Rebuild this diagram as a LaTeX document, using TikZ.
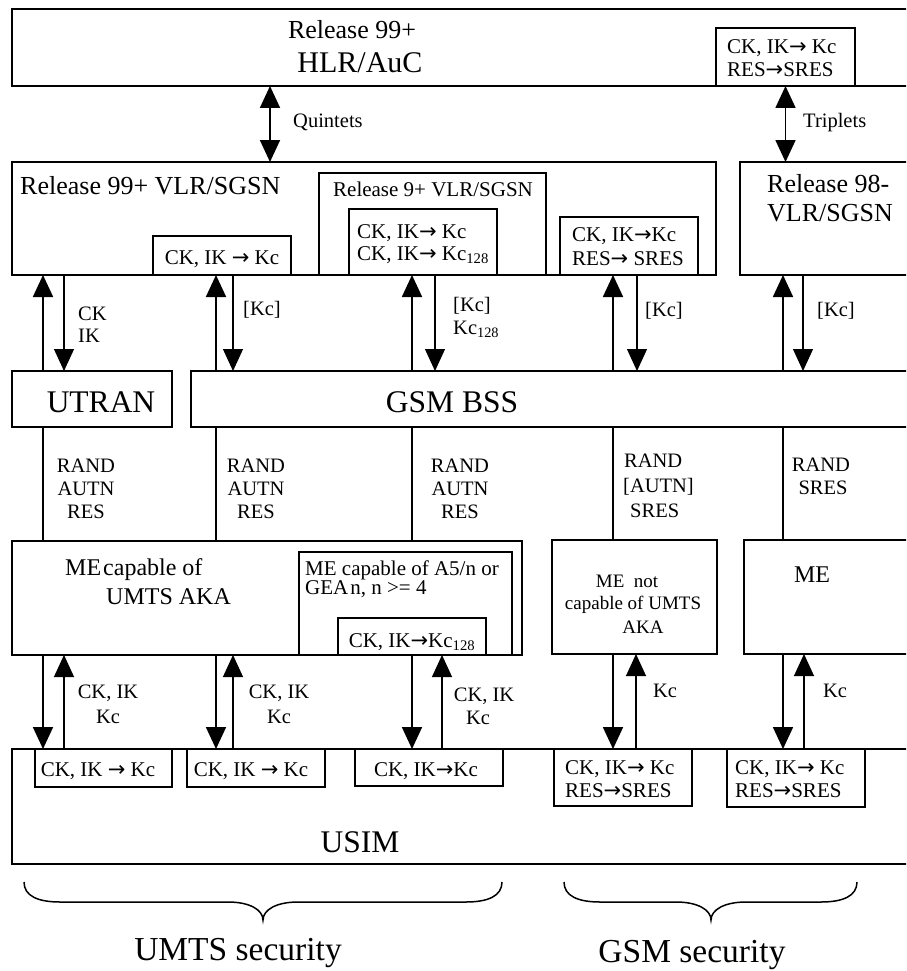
\documentclass[tikz,border=0pt]{standalone}
\usepackage{fontspec}
\setmainfont{Liberation Serif}
\newfontfamily\arrfam{DejaVu Sans}
\usetikzlibrary{arrows.meta}
\newcommand\szXL{\fontsize{33.5}{36}\selectfont}
\newcommand\szL{\fontsize{31.5}{34}\selectfont}
\newcommand\szH{\fontsize{30}{33}\selectfont}
\newcommand\szM{\fontsize{26}{29}\selectfont}
\newcommand\szMe{\fontsize{24}{27}\selectfont}
\newcommand\szS{\fontsize{21}{23}\selectfont}
\newcommand\szLab{\fontsize{20.5}{23}\selectfont}
\newcommand\szT{\fontsize{19}{22}\selectfont}
\newcommand\myarr{{\arrfam →}}
\begin{document}
\begin{tikzpicture}[x=1pt,y=-1pt,
  box/.style={draw,line width=1.5pt,anchor=north west,inner sep=0pt,outer sep=0pt},
  lbl/.style={inner sep=0pt,anchor=base west},
  clbl/.style={inner sep=0pt,anchor=base},
  main/.style={line width=1.8pt},
  aux/.style={line width=1.1pt},
  link/.style={line width=1.2pt},
  tip/.style={-{Triangle[width=20pt,length=22pt]}},
  dbl/.style={line width=1.8pt,{Triangle[width=20pt,length=22pt]}-{Triangle[width=20pt,length=22pt]}},
  brc/.style={line width=1.5pt}
]
\clip (0,0) rectangle (906,971);
% boxes
\node[box,minimum width=908pt,minimum height=77pt] (hlr) at (12,9) {};
\node[box,minimum width=139pt,minimum height=58pt] (hlrk) at (716,28) {};
\node[box,minimum width=704pt,minimum height=113pt] (vlr99) at (12,162) {};
\node[box,minimum width=138pt,minimum height=39pt] (vk1) at (153,236) {};
\node[box,minimum width=227pt,minimum height=102pt] (r9) at (319,173) {};
\node[box,minimum width=148pt,minimum height=66pt] (r9k) at (349,209) {};
\node[box,minimum width=138pt,minimum height=58pt] (vk2) at (560,217) {};
\node[box,minimum width=180pt,minimum height=113pt] (vlr98) at (740,162) {};
\node[box,minimum width=160pt,minimum height=56pt] (utran) at (12,371) {};
\node[box,minimum width=729pt,minimum height=56pt] (bss) at (191,371) {};
\node[box,minimum width=510pt,minimum height=114pt] (mecap) at (12,541) {};
\node[box,minimum width=213pt,minimum height=103pt] (me4) at (299,552) {};
\node[box,minimum width=148pt,minimum height=37pt] (me4k) at (338,618) {};
\node[box,minimum width=165pt,minimum height=114pt] (menot) at (552,540) {};
\node[box,minimum width=176pt,minimum height=114pt] (me) at (744,540) {};
\node[box,minimum width=908pt,minimum height=115pt] (usim) at (12,749) {};
\node[box,minimum width=137pt,minimum height=38pt] (u1) at (35,749) {};
\node[box,minimum width=138pt,minimum height=38pt] (u2) at (187,749) {};
\node[box,minimum width=148pt,minimum height=37pt] (u3) at (355,749) {};
\node[box,minimum width=138pt,minimum height=57pt] (u4) at (554,749) {};
\node[box,minimum width=138pt,minimum height=58pt] (u5) at (727,749) {};
% texts in boxes
\node[clbl,font=\szM] (hlrt1) at (352,39) {Release 99+};
\node[clbl,font=\szH] (hlrt2) at (360,73) {HLR/AuC};
\node[lbl,font=\szS] (hlrk1) at (727,54) {CK, IK\myarr\ Kc};
\node[lbl,font=\szS] (hlrk2) at (727,77) {RES\myarr SRES};
\node[lbl,font=\szM] (v99t) at (20,194) {Release 99+ VLR/SGSN};
\node[clbl,font=\szS] (vk1t) at (222,264) {CK, IK \myarr\ Kc};
\node[clbl,font=\szS] (r9t) at (433,196) {Release 9+ VLR/SGSN};
\node[lbl,font=\szS] (r9k1) at (357,238) {CK, IK\myarr\ Kc};
\node[lbl,font=\szS] (r9k2) at (357,260) {CK, IK\myarr\ Kc\textsubscript{128}};
\node[lbl,font=\szS] (vk2a) at (572,241) {CK, IK\myarr Kc};
\node[lbl,font=\szS] (vk2b) at (572,265) {RES\myarr\ SRES};
\node[lbl,font=\szM] (v98a) at (767,192) {Release 98-};
\node[lbl,font=\szM] (v98b) at (767,221) {VLR/SGSN};
\node[clbl,font=\szL] (utrant) at (101,412) {UTRAN};
\node[clbl,font=\szL] (bsst) at (452,412) {GSM BSS};
\node[lbl,font=\szMe] (mecap1) at (65,575) {ME\kern2pt capable of};
\node[lbl,font=\szMe] (mecap2) at (106,604) {UMTS AKA};
\node[lbl,font=\szS] (me4a) at (305,575) {ME capable of A5/n or};
\node[lbl,font=\szS] (me4b) at (305,594) {GEA\kern2pt n, n >= 4};
\node[clbl,font=\szS] (me4kt) at (412,647) {CK, IK\myarr Kc\textsubscript{128}};
\node[clbl,font=\szT] (menot1) at (627,587) {ME\ \ not};
\node[clbl,font=\szT] (menot2) at (633,609) {capable of UMTS};
\node[clbl,font=\szT] (menot3) at (643,633) {AKA};
\node[clbl,font=\szMe] (met) at (812,582) {ME};
\node[clbl,font=\szS] (u1t) at (98,776) {CK, IK \myarr\ Kc};
\node[clbl,font=\szS] (u2t) at (251,776) {CK, IK \myarr\ Kc};
\node[clbl,font=\szS] (u3t) at (426,776) {CK, IK\myarr Kc};
\node[lbl,font=\szS] (u4a) at (565,774) {CK, IK\myarr\ Kc};
\node[lbl,font=\szS] (u4b) at (565,797) {RES\myarr SRES};
\node[lbl,font=\szS] (u5a) at (735,774) {CK, IK\myarr\ Kc};
\node[lbl,font=\szS] (u5b) at (735,797) {RES\myarr SRES};
\node[clbl,font=\szL] (usimt) at (360,852) {USIM};
% connector x positions
\coordinate (cA) at (43,0);  \coordinate (cAb) at (64,0);
\coordinate (cB) at (216,0); \coordinate (cBb) at (233,0);
\coordinate (cC) at (412,0); \coordinate (cCb) at (435,0);
\coordinate (cD) at (613,0); \coordinate (cDb) at (637,0);
\coordinate (cE) at (783,0); \coordinate (cEb) at (803,0);
\coordinate (lA) at (64,0);  \coordinate (lB) at (233,0);
\coordinate (lC) at (442,0); \coordinate (lD) at (636,0);
\coordinate (lE) at (804,0); \coordinate (cQ) at (270,0);
% HLR links
\draw[dbl] (hlr.south -| cQ) -- (vlr99.north -| cQ);
\draw[dbl] (hlrk.south) -- (hlrk.south |- vlr98.north);
\node[lbl,font=\szLab] (quin) at (293,128) {Quintets};
\node[lbl,font=\szLab] (trip) at (803,128) {Triplets};
% VLR - access network
\draw[main,tip] (utran.north -| cA) -- (vlr99.south -| cA);
\draw[aux,tip] (vlr99.south -| cAb) -- (utran.north -| cAb);
\draw[main,tip] (bss.north -| cB) -- (vlr99.south -| cB);
\draw[aux,tip] (vlr99.south -| cBb) -- (bss.north -| cBb);
\draw[main,tip] (bss.north -| cC) -- (vlr99.south -| cC);
\draw[aux,tip] (vlr99.south -| cCb) -- (bss.north -| cCb);
\draw[main,tip] (bss.north -| cD) -- (vlr99.south -| cD);
\draw[aux,tip] (vlr99.south -| cDb) -- (bss.north -| cDb);
\draw[main,tip] (bss.north -| cE) -- (vlr98.south -| cE);
\draw[aux,tip] (vlr98.south -| cEb) -- (bss.north -| cEb);
\node[lbl,font=\szLab] (la1) at (78,320) {CK};
\node[lbl,font=\szLab] (la2) at (78,342) {IK};
\node[lbl,font=\szLab] (lb1) at (243,315) {[Kc]};
\node[lbl,font=\szLab] (lc1) at (453,311) {[Kc]};
\node[lbl,font=\szLab] (lc2) at (453,334) {Kc\textsubscript{128}};
\node[lbl,font=\szLab] (ld1) at (645,316) {[Kc]};
\node[lbl,font=\szLab] (le1) at (817,316) {[Kc]};
% access network - ME
\draw[link] (utran.south -| cA) -- (mecap.north -| cA);
\draw[link] (bss.south -| cB) -- (mecap.north -| cB);
\draw[link] (bss.south -| cC) -- (mecap.north -| cC);
\draw[link] (bss.south -| cD) -- (menot.north -| cD);
\draw[link] (bss.south -| cE) -- (me.north -| cE);
\node[clbl,font=\szLab] (r1a) at (86,472) {RAND};
\node[clbl,font=\szLab] (r1b) at (86,495) {AUTN};
\node[clbl,font=\szLab] (r1c) at (86,518) {RES};
\node[clbl,font=\szLab] (r2a) at (256,472) {RAND};
\node[clbl,font=\szLab] (r2b) at (256,495) {AUTN};
\node[clbl,font=\szLab] (r2c) at (256,518) {RES};
\node[clbl,font=\szLab] (r3a) at (460,472) {RAND};
\node[clbl,font=\szLab] (r3b) at (460,495) {AUTN};
\node[clbl,font=\szLab] (r3c) at (460,518) {RES};
\node[lbl,font=\szLab] (r4a) at (624,467) {RAND};
\node[lbl,font=\szLab] (r4b) at (623,492) {[AUTN]};
\node[lbl,font=\szLab] (r4c) at (630,517) {SRES};
\node[clbl,font=\szLab] (r5a) at (821,471) {RAND};
\node[clbl,font=\szLab] (r5b) at (823,494) {SRES};
% ME - USIM
\draw[main,tip] (mecap.south -| cA) -- (usim.north -| cA);
\draw[aux,tip] (usim.north -| lA) -- (mecap.south -| lA);
\draw[main,tip] (mecap.south -| cB) -- (usim.north -| cB);
\draw[aux,tip] (usim.north -| lB) -- (mecap.south -| lB);
\draw[main,tip] (mecap.south -| cC) -- (usim.north -| cC);
\draw[aux,tip] (usim.north -| lC) -- (mecap.south -| lC);
\draw[main,tip] (menot.south -| cD) -- (usim.north -| cD);
\draw[aux,tip] (usim.north -| lD) -- (menot.south -| lD);
\draw[main,tip] (me.south -| cE) -- (usim.north -| cE);
\draw[aux,tip] (usim.north -| lE) -- (me.south -| lE);
\node[clbl,font=\szLab] (k1a) at (108,698) {CK, IK};
\node[clbl,font=\szLab] (k1b) at (108,723) {Kc};
\node[clbl,font=\szLab] (k2a) at (279,698) {CK, IK};
\node[clbl,font=\szLab] (k2b) at (279,723) {Kc};
\node[clbl,font=\szLab] (k3a) at (484,701) {CK, IK};
\node[clbl,font=\szLab] (k3b) at (478,724) {Kc};
\node[clbl,font=\szLab] (k4a) at (665,697) {Kc};
\node[clbl,font=\szLab] (k5a) at (835,697) {Kc};
% braces
\draw[brc] (24,882) .. controls (24,896) and (38,902) .. (60,902) -- (228,902)
  .. controls (250,902) and (263,910) .. (263,920)
  .. controls (263,910) and (276,902) .. (298,902) -- (466,902)
  .. controls (488,902) and (502,896) .. (502,882);
\draw[brc] (564,882) .. controls (564,896) and (578,902) .. (600,902) -- (676,902)
  .. controls (698,902) and (711,910) .. (711,920)
  .. controls (711,910) and (724,902) .. (746,902) -- (821,902)
  .. controls (843,902) and (857,896) .. (857,882);
\node[clbl,font=\szXL] (umts) at (238,960) {UMTS security};
\node[clbl,font=\szXL] (gsm) at (692,962) {GSM security};
\end{tikzpicture}
\end{document}
